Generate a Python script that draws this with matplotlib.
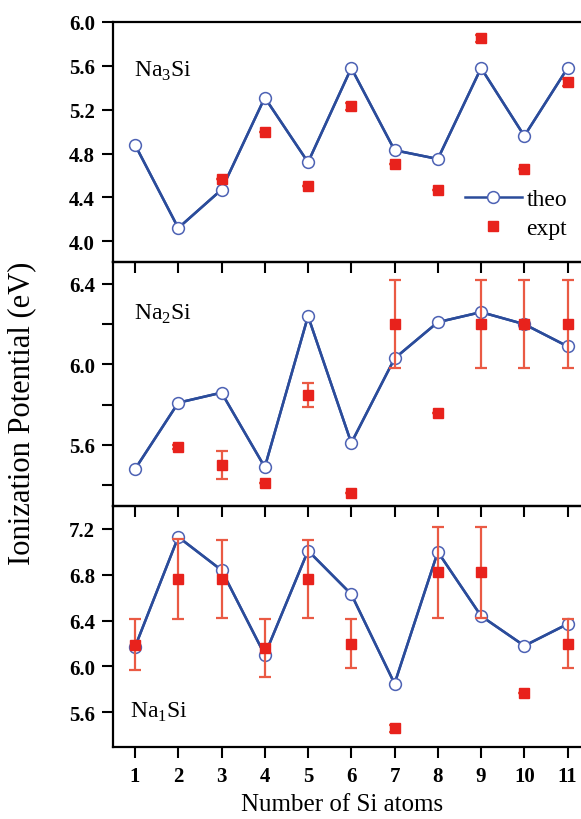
import matplotlib
matplotlib.use("Agg")
import matplotlib.pyplot as plt
from matplotlib.ticker import FixedLocator, MultipleLocator

plt.rcParams["font.family"] = ["Liberation Serif", "DejaVu Serif"]
plt.rcParams["mathtext.fontset"] = "custom"
plt.rcParams["mathtext.rm"] = "Liberation Serif"

n_si = [1, 2, 3, 4, 5, 6, 7, 8, 9, 10, 11]

# Na3Si
na3_theo = [4.88, 4.12, 4.47, 5.31, 4.72, 5.58, 4.83, 4.75, 5.58, 4.96, 5.58]
na3_expt_x = [3, 4, 5, 6, 7, 8, 9, 10, 11]
na3_expt = [4.57, 5.00, 4.50, 5.23, 4.70, 4.47, 5.85, 4.66, 5.45]
na3_err = [0.0, 0.0, 0.0, 0.03, 0.0, 0.0, 0.03, 0.0, 0.03]

# Na2Si
na2_theo = [5.48, 5.81, 5.86, 5.49, 6.24, 5.61, 6.03, 6.21, 6.26, 6.20, 6.09]
na2_expt_x = [2, 3, 4, 5, 6, 7, 8, 9, 10, 11]
na2_expt = [5.59, 5.50, 5.41, 5.85, 5.36, 6.20, 5.76, 6.20, 6.20, 6.20]
na2_err = [0.01, 0.07, 0.0, 0.06, 0.0, 0.22, 0.0, 0.22, 0.22, 0.22]

# Na1Si
na1_theo = [6.17, 7.13, 6.84, 6.10, 7.01, 6.63, 5.85, 7.00, 6.44, 6.18, 6.37]
na1_expt_x = [1, 2, 3, 4, 5, 6, 7, 8, 9, 10, 11]
na1_expt = [6.19, 6.76, 6.76, 6.16, 6.76, 6.20, 5.46, 6.82, 6.82, 5.77, 6.20]
na1_err = [0.22, 0.35, 0.34, 0.25, 0.34, 0.215, 0.03, 0.40, 0.40, 0.0, 0.215]

panel_names = ["Na$_3$Si", "Na$_2$Si", "Na$_1$Si"]
y_limits = [(3.81, 6.0), (5.297, 6.509), (5.297, 7.40)]
y_ticks = [[4.0, 4.4, 4.8, 5.2, 5.6, 6.0], [5.6, 6.0, 6.4], [5.6, 6.0, 6.4, 6.8, 7.2]]

BLUE = "#2b4c9b"
CIRC = "#4d62b4"
RED = "#e8221c"
ERR = "#ea5a44"

W, H = 581, 820
fig = plt.figure(figsize=(W / 100, H / 100), dpi=100)

# panel pixel spans (top, bottom)
spans = [(23, 263), (263, 507), (507, 748)]
left_px = 113

axes = []
for top, bot in spans:
    ax = fig.add_axes([left_px / W, 1 - bot / H, 1 - left_px / W, (bot - top) / H])
    ax.patch.set_alpha(0)
    axes.append(ax)

theo_all = [na3_theo, na2_theo, na1_theo]
expt_all = [(na3_expt_x, na3_expt, na3_err),
            (na2_expt_x, na2_expt, na2_err),
            (na1_expt_x, na1_expt, na1_err)]

for i, ax in enumerate(axes):
    ex, ey, ee = expt_all[i]
    ax.plot(n_si, theo_all[i], "-", color=BLUE, lw=1.8, zorder=2)
    l_theo, = ax.plot(n_si, theo_all[i], "o-", color=BLUE, lw=1.8, ms=8.5,
                      mfc="white", mec=CIRC, mew=1.1, zorder=3)
    ax.errorbar(ex, ey, yerr=ee, fmt="none", ecolor=ERR, elinewidth=1.6,
                capsize=4.5, capthick=1.6, zorder=4)
    l_expt, = ax.plot(ex, ey, "s", color=RED, ms=7, ls="none", zorder=5)

    ax.set_xlim(0.491, 11.31)
    ax.set_ylim(*y_limits[i])
    ax.yaxis.set_major_locator(FixedLocator(y_ticks[i]))
    if i == 1:
        ax.yaxis.set_minor_locator(MultipleLocator(0.2))
    ax.xaxis.set_major_locator(FixedLocator(n_si))
    ax.tick_params(axis="both", which="both", direction="out", length=8,
                   width=1.5, top=False, right=False)
    ax.tick_params(axis="y", which="major", labelsize=15, pad=5)
    for lab in ax.get_yticklabels():
        lab.set_fontweight("bold")
    ax.spines["right"].set_visible(False)
    for s in ("left", "top", "bottom"):
        ax.spines[s].set_linewidth(1.6)
    if i < 2:
        ax.tick_params(axis="x", labelbottom=False)
    else:
        ax.tick_params(axis="x", labelsize=15, pad=6)
        for lab in ax.get_xticklabels():
            lab.set_fontweight("bold")

    if i == 2:
        ax.text(0.036, 0.124, panel_names[i], transform=ax.transAxes,
                fontsize=17, va="baseline", ha="left")
    else:
        yb = 0.775 if i == 0 else 0.766
        ax.text(0.045, yb, panel_names[i], transform=ax.transAxes,
                fontsize=17, va="baseline", ha="left")

    if i == 0:
        ax.legend([l_theo, l_expt], ["theo", "expt"], loc="center right",
                  bbox_to_anchor=(0.97, 0.20), frameon=False, fontsize=17,
                  handlelength=2.4, handletextpad=0.2, labelspacing=0.3,
                  borderaxespad=0, borderpad=0)

fig.text(22 / W, 1 - 413 / H, "Ionization Potential (eV)", rotation=90,
         ha="center", va="center", fontsize=22)
fig.text(342 / W, 1 - 805 / H, "Number of Si atoms", ha="center",
         va="center", fontsize=18)

fig.savefig("out.png", dpi=100)
